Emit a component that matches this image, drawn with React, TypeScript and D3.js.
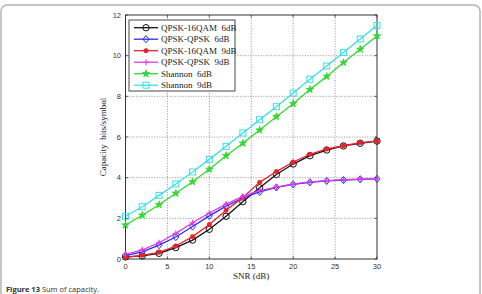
import React from 'react';
import * as d3 from 'd3';

// SNR sweep in dB
const snr = [0, 2, 4, 6, 8, 10, 12, 14, 16, 18, 20, 22, 24, 26, 28, 30];

// Capacity in bits/symbol
const qpsk16qam6 = [0.1, 0.15, 0.28, 0.56, 0.93, 1.46, 2.1, 2.82, 3.5, 4.16, 4.67, 5.08, 5.36, 5.56, 5.69, 5.8];
const qpskQpsk6 = [0.17, 0.35, 0.68, 1.08, 1.6, 2.12, 2.6, 3.0, 3.3, 3.52, 3.67, 3.77, 3.84, 3.88, 3.92, 3.94];
const qpsk16qam9 = [0.08, 0.18, 0.33, 0.64, 1.1, 1.7, 2.4, 3.03, 3.77, 4.3, 4.77, 5.15, 5.41, 5.57, 5.72, 5.8];
const qpskQpsk9 = [0.23, 0.45, 0.8, 1.26, 1.78, 2.26, 2.7, 3.08, 3.36, 3.54, 3.69, 3.79, 3.85, 3.9, 3.93, 3.95];
const shannon6 = [1.67, 2.15, 2.67, 3.23, 3.8, 4.41, 5.08, 5.69, 6.34, 7.0, 7.64, 8.33, 8.98, 9.66, 10.31, 10.97];
const shannon9 = [2.1, 2.57, 3.13, 3.69, 4.28, 4.9, 5.54, 6.2, 6.85, 7.49, 8.16, 8.84, 9.49, 10.16, 10.82, 11.48];

const xTicks = [0, 5, 10, 15, 20, 25, 30];
const yTicks = [0, 2, 4, 6, 8, 10, 12];

type Marker = 'circle' | 'diamond' | 'dot' | 'plus' | 'star' | 'square';

const series: { name: string; values: number[]; color: string; marker: Marker }[] = [
  { name: 'QPSK-16QAM  6dB', values: qpsk16qam6, color: '#111111', marker: 'circle' },
  { name: 'QPSK-QPSK  6dB', values: qpskQpsk6, color: '#2b2bf0', marker: 'diamond' },
  { name: 'QPSK-16QAM  9dB', values: qpsk16qam9, color: '#e8222a', marker: 'dot' },
  { name: 'QPSK-QPSK  9dB', values: qpskQpsk9, color: '#e03ae6', marker: 'plus' },
  { name: 'Shannon  6dB', values: shannon6, color: '#33d633', marker: 'star' },
  { name: 'Shannon  9dB', values: shannon9, color: '#3cdde6', marker: 'square' },
];

const W = 482;
const H = 294;
const plot = { left: 125.5, right: 377, top: 15, bottom: 259 };

const x = d3.scaleLinear().domain([0, 30]).range([plot.left, plot.right]);
const y = d3.scaleLinear().domain([0, 12]).range([plot.bottom, plot.top]);

const starPath = d3.symbol(d3.symbolStar, 17)() as string;

function MarkerShape({ kind, color, cx, cy }: { kind: Marker; color: string; cx: number; cy: number }) {
  const t = `translate(${cx},${cy})`;
  switch (kind) {
    case 'circle':
      return <circle cx={cx} cy={cy} r={3.2} fill="none" stroke={color} strokeWidth={1} />;
    case 'diamond':
      return <path transform={t} d="M0,-3.6L3,0L0,3.6L-3,0Z" fill="none" stroke={color} strokeWidth={1} />;
    case 'dot':
      return <circle cx={cx} cy={cy} r={2.2} fill={color} stroke={color} strokeWidth={0.6} />;
    case 'plus':
      return <path transform={t} d="M-3,0H3M0,-3V3" stroke={color} strokeWidth={1.1} />;
    case 'star':
      return <path transform={t} d={starPath} fill={color} stroke={color} strokeWidth={0.8} />;
    case 'square':
      return <rect x={cx - 3} y={cy - 3} width={6} height={6} fill="none" stroke={color} strokeWidth={1} />;
  }
}

export default function App() {
  const line = d3
    .line<number>()
    .x((_, i) => x(snr[i]))
    .y((v) => y(v));

  const legend = { x: 129, y: 20, w: 106, h: 71, row: 11.5 };

  return (
    <svg
      width={W}
      height={H}
      style={{ position: 'absolute', left: 0, top: 0, background: '#fff' }}
    >
      {/* page frame */}
      <rect x={1} y={5} width={479} height={300} rx={6} fill="none" stroke="#b4b4b4" strokeWidth={1.5} />

      {/* grid */}
      <g stroke="#666" strokeWidth={0.7} strokeDasharray="1,1.6">
        {xTicks.slice(1, -1).map((t) => (
          <line key={`gx${t}`} x1={x(t)} x2={x(t)} y1={plot.top} y2={plot.bottom} />
        ))}
        {yTicks.slice(1, -1).map((t) => (
          <line key={`gy${t}`} x1={plot.left} x2={plot.right} y1={y(t)} y2={y(t)} />
        ))}
      </g>

      {/* axes box and ticks */}
      <rect
        x={plot.left}
        y={plot.top}
        width={plot.right - plot.left}
        height={plot.bottom - plot.top}
        fill="none"
        stroke="#333"
        strokeWidth={1}
      />
      <g stroke="#333" strokeWidth={0.8}>
        {xTicks.map((t) => (
          <g key={`tx${t}`}>
            <line x1={x(t)} x2={x(t)} y1={plot.bottom} y2={plot.bottom - 2.5} />
            <line x1={x(t)} x2={x(t)} y1={plot.top} y2={plot.top + 2.5} />
          </g>
        ))}
        {yTicks.map((t) => (
          <g key={`ty${t}`}>
            <line x1={plot.left} x2={plot.left + 2.5} y1={y(t)} y2={y(t)} />
            <line x1={plot.right} x2={plot.right - 2.5} y1={y(t)} y2={y(t)} />
          </g>
        ))}
      </g>
      <g fontFamily="'Liberation Sans', Arial, sans-serif" fontSize={7.5} fill="#333">
        {xTicks.map((t) => (
          <text key={`lx${t}`} x={x(t)} y={plot.bottom + 9.5} textAnchor="middle">
            {t}
          </text>
        ))}
        {yTicks.map((t) => (
          <text key={`ly${t}`} x={plot.left - 4.5} y={y(t) + 2.7} textAnchor="end">
            {t}
          </text>
        ))}
      </g>

      {/* axis labels */}
      <g fontFamily="'Liberation Serif', 'Times New Roman', serif" fontSize={9} fill="#222">
        <text x={(plot.left + plot.right) / 2} y={279} textAnchor="middle">
          SNR (dB)
        </text>
        <text
          transform={`translate(106,${(plot.top + plot.bottom) / 2}) rotate(-90)`}
          textAnchor="middle"
          style={{ whiteSpace: 'pre' }}
        >
          {'Capacity  bits/symbol'}
        </text>
      </g>

      {/* curves */}
      {series.map((s) => (
        <g key={s.name}>
          <path d={line(s.values) as string} fill="none" stroke={s.color} strokeWidth={1.3} />
          {s.values.map((v, i) => (
            <MarkerShape key={i} kind={s.marker} color={s.color} cx={x(snr[i])} cy={y(v)} />
          ))}
        </g>
      ))}

      {/* legend */}
      <rect x={legend.x} y={legend.y} width={legend.w} height={legend.h} fill="#fff" stroke="#333" strokeWidth={0.9} />
      {series.map((s, i) => {
        const cy = legend.y + 7.7 + i * legend.row;
        return (
          <g key={`lg${s.name}`}>
            <line x1={legend.x + 5} x2={legend.x + 29} y1={cy} y2={cy} stroke={s.color} strokeWidth={1.3} />
            <MarkerShape kind={s.marker} color={s.color} cx={legend.x + 17} cy={cy} />
            <text
              x={legend.x + 32}
              y={cy + 3}
              fontFamily="'Liberation Serif', 'Times New Roman', serif"
              fontSize={9}
              fill="#222"
              style={{ whiteSpace: 'pre' }}
            >
              {s.name}
            </text>
          </g>
        );
      })}

      {/* caption */}
      <text x={6} y={292} fontFamily="'Open Sans', 'Noto Sans', sans-serif" fontSize={7.5} fill="#333">
        <tspan fontWeight="bold">Figure 13</tspan> Sum of capacity.
      </text>
    </svg>
  );
}
